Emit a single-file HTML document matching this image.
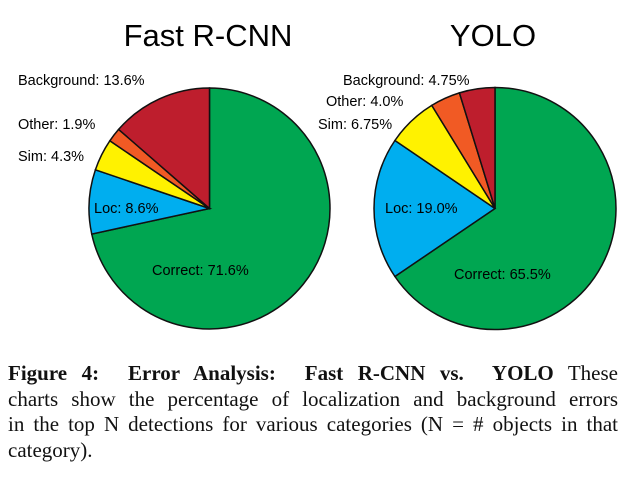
<!DOCTYPE html>
<html><head><meta charset="utf-8"><style>
body{margin:0;background:#fff;width:639px;height:479px;overflow:hidden;position:relative}
svg{position:absolute;left:0;top:0}
.cap{position:absolute;left:8px;top:361px;width:610px;font-family:"Liberation Serif",serif;font-size:21px;line-height:25.7px;color:#111}
.cap div{text-align:justify;text-align-last:justify;white-space:nowrap}
.cap div.last{text-align-last:left}
</style></head><body>
<svg width="639" height="479">
<text x="208" y="46" text-anchor="middle" font-family="Liberation Sans, sans-serif" font-size="31">Fast R-CNN</text>
<text x="493" y="46" text-anchor="middle" font-family="Liberation Sans, sans-serif" font-size="31">YOLO</text>
<g id="p1"></g><g id="p2"></g>
</svg>
<div class="cap">
<div><b>Figure 4:&nbsp; Error Analysis:&nbsp; Fast R-CNN vs.&nbsp; YOLO</b> These</div>
<div>charts show the percentage of localization and background errors</div>
<div>in the top N detections for various categories (N = # objects in that</div>
<div class="last">category).</div>
</div>
<script>
const categories=["Correct","Loc","Sim","Other","Background"];
const colors=["#00a651","#00aeef","#fff200","#f15a24","#be1e2d"];
const fastValues=[71.6,8.6,4.3,1.9,13.6];
const yoloValues=[65.5,19.0,6.75,4.0,4.75];
const fastLabels=["Correct: 71.6%","Loc: 8.6%","Sim: 4.3%","Other: 1.9%","Background: 13.6%"];
const yoloLabels=["Correct: 65.5%","Loc: 19.0%","Sim: 6.75%","Other: 4.0%","Background: 4.75%"];
const NS="http://www.w3.org/2000/svg";
function pie(gid,cx,cy,r,vals,labels,lpos,prefix){
 const g=document.getElementById(gid);
 const tot=vals.reduce((a,b)=>a+b,0);let a0=0;
 vals.forEach((v,i)=>{
  const a1=a0+v/tot*2*Math.PI;
  const x0=cx+r*Math.sin(a0),y0=cy-r*Math.cos(a0),x1=cx+r*Math.sin(a1),y1=cy-r*Math.cos(a1);
  const p=document.createElementNS(NS,"path");
  p.setAttribute("d",`M${cx},${cy}L${x0},${y0}A${r},${r} 0 ${a1-a0>Math.PI?1:0} 1 ${x1},${y1}Z`);
  p.setAttribute("fill",colors[i]);p.setAttribute("stroke","#111");p.setAttribute("stroke-width","1.5");
  
  
  g.appendChild(p);a0=a1;
 });
 labels.forEach((t,i)=>{
  const e=document.createElementNS(NS,"text");
  e.setAttribute("x",lpos[i][0]);e.setAttribute("y",lpos[i][1]);
  e.setAttribute("font-family","Liberation Sans, sans-serif");e.setAttribute("font-size","14.5");
  e.textContent=t;
  
  
  g.appendChild(e);
 });
}
pie("p1",209.5,208.5,120.5,fastValues,fastLabels,[[152,275],[94,213],[18,161],[18,129],[18,85]],"fast-rcnn");
pie("p2",495,208.5,121,yoloValues,yoloLabels,[[454,279],[385,213],[318,129],[326,106],[343,85]],"yolo");
</script>
</body></html>
